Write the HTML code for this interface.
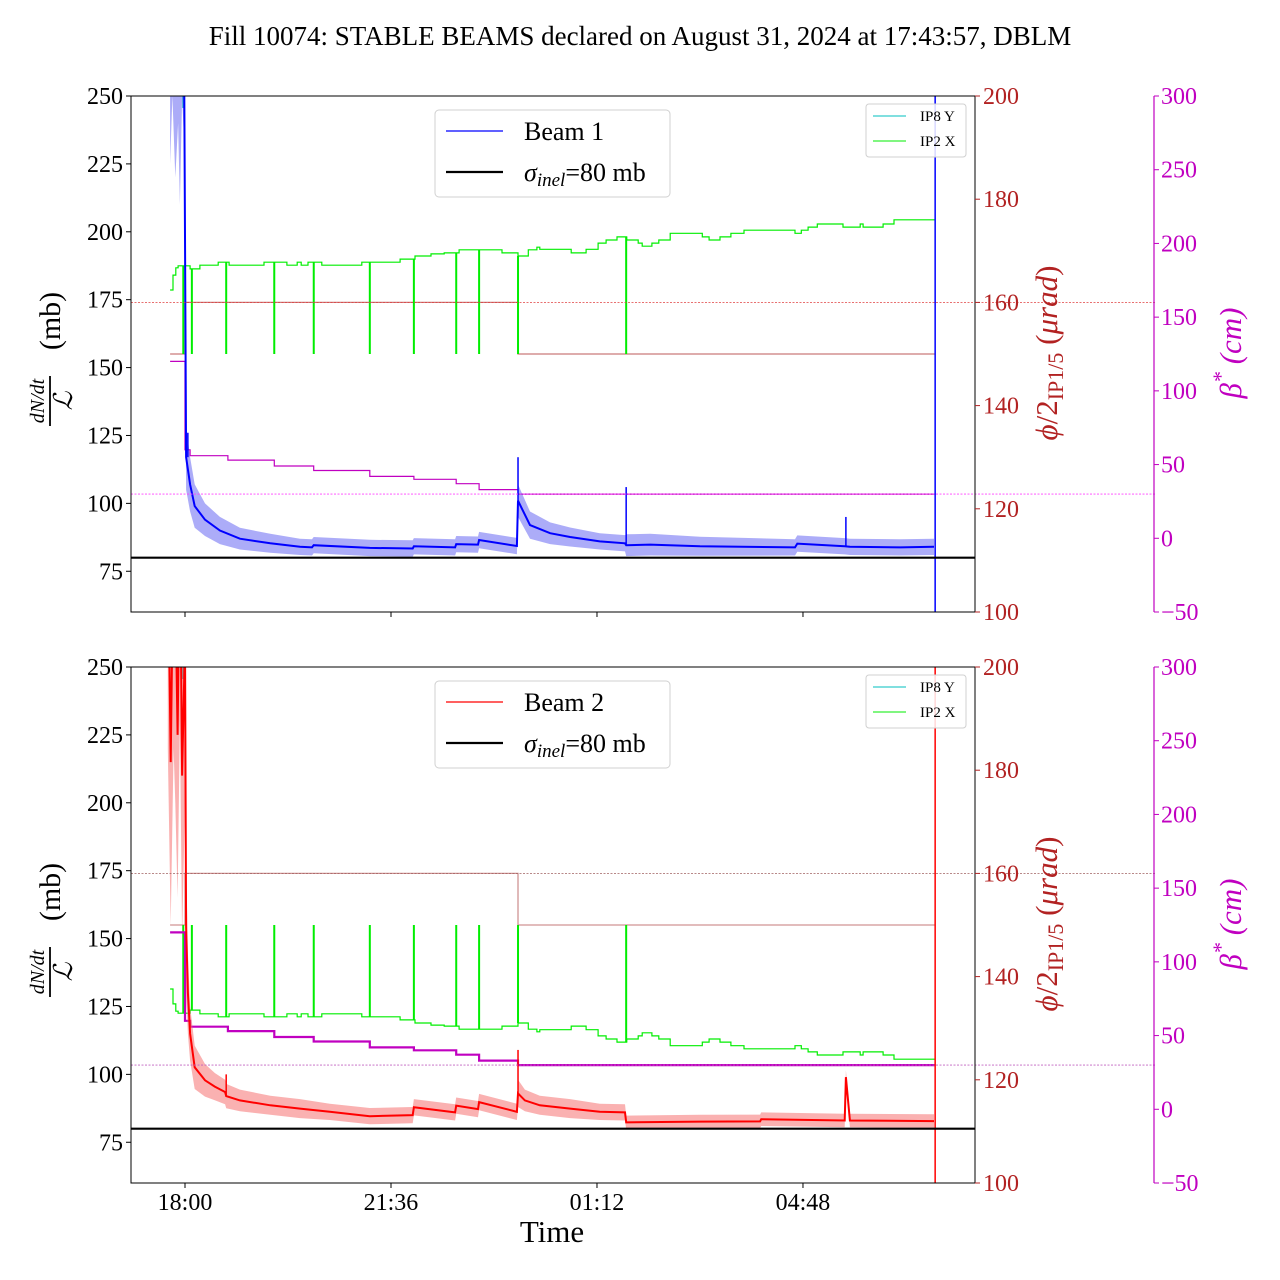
<!DOCTYPE html>
<html><head><meta charset="utf-8"><title>Fill 10074 DBLM</title>
<style>
html,body{margin:0;padding:0;background:#fff;}
svg{display:block;font-family:"Liberation Serif",serif;}
</style></head>
<body>
<svg id="chart" width="1280" height="1280" viewBox="0 0 1280 1280" xmlns="http://www.w3.org/2000/svg">
<text x="640" y="45" font-size="27" text-anchor="middle">Fill 10074: STABLE BEAMS declared on August 31, 2024 at 17:43:57, DBLM</text>
<g id="layer"></g>
<text x="552" y="1242" font-size="31" text-anchor="middle">Time</text>
</svg>
<script>
// ---- data (hours relative to 18:00) ----
const xTickLabels = ["18:00","21:36","01:12","04:48"];
const xTickHours = [0, 3.6, 7.2, 10.8];
const leftTicks = [75,100,125,150,175,200,225,250];
const redTicks = [100,120,140,160,180,200];
const magTicks = [-50,0,50,100,150,200,250,300];

const b1T = [-0.26,-0.22,-0.17,-0.12,-0.09,-0.05,-0.02,0.02,0.09,0.17,0.35,0.61,0.96,1.49,2.01,2.22,2.25,3.23,3.98,4.0,4.72,4.74,5.12,5.14,5.80,5.82,6.03,6.38,6.73,7.25,7.69,7.71,8.13,9.0,10.66,10.7,11.53,11.62,12.5,13.09];
const b1V = [270,300,260,290,255,300,280,117,107,99,94,90,87,85.3,84,83.8,84.6,83.6,83.4,84.2,83.8,85,84.8,86.5,84.3,101,92,89,87.6,86,85.3,84.6,84.8,84.2,83.8,85.2,84.2,84,83.8,84];
const b1W = [45,50,40,50,45,50,45,12,10,8,6,5,4,3.5,3,3,3,3,3,3,3,3,3,3,3,6,5,4,3.5,3,3,4,4,3.5,3,3,3,3,3,3];
const b1SpikeT = [0.05,5.82,7.71,11.55];
const b1SpikeV = [126,117,106,95];

const b2T = [-0.30,-0.25,-0.20,-0.17,-0.13,-0.09,-0.05,0.0,0.02,0.05,0.09,0.17,0.35,0.52,0.70,0.72,0.96,1.49,2.01,2.53,3.23,3.98,4.0,4.72,4.74,5.12,5.14,5.80,5.82,5.94,6.20,6.73,7.25,7.69,7.71,9.0,10.05,10.07,11.53,11.55,11.62,13.09];
const b2V = [300,215,300,280,225,300,210,260,154,130,115,102.6,97.8,95.5,93.5,92,90.4,88.6,87.4,86.2,84.6,85,87.9,86,88.5,87.2,89.8,86.2,93,90.4,88.6,87.4,86.2,86,82.3,82.6,82.7,83.5,83,99,83,82.8];
const b2W = [80,60,80,80,60,70,60,60,25,15,10,8,6,5,4.5,4.5,4,3.5,3.5,3,3,3,3,3,3,3,3,3,5,4,3.5,3.5,3,3,2.5,2.5,2.5,2.5,2.5,2.5,2.5,2.5];
const b2SpikeT = [0.72,5.82,11.55];
const b2SpikeV = [100,109,99];

const g1T = [-0.26,-0.21,-0.16,-0.12,0.09,0.26,0.58,0.77,1.38,1.78,1.96,2.03,2.15,2.39,3.09,3.76,4.02,4.30,4.53,4.79,5.54,5.82,6.0,6.15,6.2,6.75,7.01,7.22,7.36,7.55,7.72,7.92,7.99,8.16,8.28,8.48,9.04,9.16,9.35,9.54,9.77,10.66,10.77,10.89,11.05,11.50,11.80,11.85,12.20,12.39,13.11];
const g1V = [162.4,165.3,166.7,167.1,166.5,167.2,167.8,167.2,167.8,167.2,167.8,167.2,167.8,167.2,167.8,168.4,169.0,169.4,169.6,170.2,169.6,169.0,170.2,170.7,170.3,169.6,170.3,171.5,172.1,172.7,172.1,171.5,170.9,171.5,172.1,173.4,172.7,172.1,172.7,173.4,174.0,173.4,174.0,174.6,175.2,174.6,175.2,174.6,175.2,176.0,176.0];
const g2V = [137.6,134.7,133.3,132.9,133.5,132.8,132.2,132.8,132.2,132.8,132.2,132.8,132.2,132.8,132.2,131.6,131.0,130.6,130.4,129.8,130.4,131.0,129.8,129.3,129.7,130.4,129.7,128.5,127.9,127.3,127.9,128.5,129.1,128.5,127.9,126.6,127.3,127.9,127.3,126.6,126.0,126.6,126.0,125.4,124.8,125.4,124.8,125.4,124.8,124.0,124.0];
const dipT = [-0.03,0.12,0.72,1.56,2.25,3.23,4.0,4.74,5.14,5.82,7.71];
const dipV = 150;

const betaT = [-0.26,0.0,0.09,0.75,1.56,2.25,3.23,4.0,4.74,5.14,5.82,13.11];
const betaV = [120,60,56,53,49,46,42,40,37,33,30,30];

const xingT = [-0.26,0.0,5.82,13.11];
const xingV = [150,160,150,150];

// ---- drawing ----
const NS = "http://www.w3.org/2000/svg";
const layer = document.getElementById("layer");
const X0 = 131, X1 = 975;
const xH = h => 185 + h * 57.22;
function mk(tag, attrs, parent) {
  const e = document.createElementNS(NS, tag);
  for (const k in attrs) e.setAttribute(k, attrs[k]);
  (parent || layer).appendChild(e);
  return e;
}
function stepPath(ts, vs, yf) {
  let d = "M" + xH(ts[0]).toFixed(1) + "," + yf(vs[0]).toFixed(1);
  for (let i = 1; i < ts.length; i++) {
    d += "L" + xH(ts[i]).toFixed(1) + "," + yf(vs[i - 1]).toFixed(1);
    d += "L" + xH(ts[i]).toFixed(1) + "," + yf(vs[i]).toFixed(1);
  }
  return d;
}
function linePath(ts, vs, yf) {
  return ts.map((t, i) => (i ? "L" : "M") + xH(t).toFixed(1) + "," + yf(vs[i]).toFixed(1)).join("");
}

function panel(idx, Y0, bT, bV, bW, sT, sV, col, bandCol, gV, betaW, name, xingCol, refCol1, refCol2) {
  const Y1 = Y0 + 516;
  const yL = v => Y0 + (250 - v) * 516 / 190;
  const yR = v => Y0 + (200 - v) * 516 / 100;
  const yM = v => Y0 + (300 - v) * 516 / 350;
  const g = mk("g", {});
  
  
  const cid = "clip" + idx;
  const cp = mk("clipPath", { id: cid }, g);
  mk("rect", { x: X0, y: Y0, width: X1 - X0, height: 516 }, cp);
  const pg = mk("g", { "clip-path": "url(#" + cid + ")" }, g);

  const r1 = mk("line", { x1: X0, x2: X1 + 180, y1: yR(160), y2: yR(160), stroke: refCol1, "stroke-width": 0.8, "stroke-dasharray": "2,1.5" }, g);
  
  
  const r2 = mk("line", { x1: X0, x2: X1 + 180, y1: yM(30), y2: yM(30), stroke: refCol2, "stroke-width": 0.8, "stroke-dasharray": "2,1.5" }, g);
  
  

  const xl = mk("path", { d: stepPath(xingT, xingV, yR), fill: "none", stroke: xingCol, "stroke-width": 1.3 }, pg);
  
  

  const gl = mk("path", { d: stepPath(g1T, gV, yR), fill: "none", stroke: "#00ee00", "stroke-width": 1.2 }, pg);
  
  
  dipT.forEach(t => {
    let i = 0; while (i < g1T.length - 1 && g1T[i + 1] <= t) i++;
    const dl = mk("line", { x1: xH(t), x2: xH(t), y1: yR(gV[i]), y2: yR(dipV), stroke: "#00ee00", "stroke-width": 2 }, pg);
    
    
  });
  const cy = mk("line", { x1: xH(-0.03), x2: xH(-0.03), y1: Y0, y2: Y0 + 12, stroke: "#00bfbf", "stroke-width": 2 }, pg);
  
  

  const bl = mk("path", { d: stepPath(betaT, betaV, yM), fill: "none", stroke: "#c000c0", "stroke-width": betaW }, pg);
  
  

  let d = "";
  bT.forEach((t, i) => { d += (i ? "L" : "M") + xH(t).toFixed(1) + "," + yL(bV[i] + bW[i]).toFixed(1); });
  for (let i = bT.length - 1; i >= 0; i--) d += "L" + xH(bT[i]).toFixed(1) + "," + yL(bV[i] - bW[i]).toFixed(1);
  const band = mk("path", { d: d + "Z", fill: bandCol, stroke: "none" }, pg);
  
  
  const ml = mk("path", { d: linePath(bT, bV, yL), fill: "none", stroke: col, "stroke-width": 2 }, pg);
  
  
  sT.forEach((t, i) => {
    let j = 0; while (j < bT.length - 1 && bT[j + 1] <= t) j++;
    const s = mk("line", { x1: xH(t), x2: xH(t), y1: yL(bV[j]), y2: yL(sV[i]), stroke: col, "stroke-width": 1.5 }, pg);
    
    
  });
  const endT = bT[bT.length - 1] + 0.02;
  const ev = mk("line", { x1: xH(endT), x2: xH(endT), y1: Y0, y2: Y1, stroke: col, "stroke-width": 1.5 }, pg);
  
  

  const sg = mk("line", { x1: X0, x2: X1, y1: yL(80), y2: yL(80), stroke: "#000", "stroke-width": 2.2 }, pg);
  
  

  const fr = mk("rect", { x: X0, y: Y0, width: X1 - X0, height: 516, fill: "none", stroke: "#000", "stroke-width": 1 }, g);
  
  

  leftTicks.forEach(v => {
    mk("line", { x1: X0 - 5, x2: X0, y1: yL(v), y2: yL(v), stroke: "#000" }, g);
    const t = mk("text", { x: X0 - 8, y: yL(v) + 8, "font-size": 24, "text-anchor": "end" }, g);
    
    
    t.textContent = v;
  });
  redTicks.forEach(v => {
    mk("line", { x1: X1, x2: X1 + 5, y1: yR(v), y2: yR(v), stroke: "#b22222" }, g);
    const t = mk("text", { x: X1 + 8, y: yR(v) + 8, "font-size": 24, fill: "#b22222" }, g);
    
    
    t.textContent = v;
  });
  const ms = mk("line", { x1: 1154, x2: 1154, y1: Y0, y2: Y1, stroke: "#c000c0", "stroke-width": 1.2 }, g);
  
  
  magTicks.forEach(v => {
    mk("line", { x1: 1154, x2: 1159, y1: yM(v), y2: yM(v), stroke: "#c000c0" }, g);
    const t = mk("text", { x: 1161, y: yM(v) + 8, "font-size": 24, fill: "#c000c0" }, g);
    
    
    t.textContent = v < 0 ? "\u2212" + Math.abs(v) : v;
  });
  xTickHours.forEach((h, i) => {
    mk("line", { x1: xH(h), x2: xH(h), y1: Y1, y2: Y1 + 5, stroke: "#000" }, g);
    if (idx === 1) {
      const t = mk("text", { x: xH(h), y: Y1 + 27, "font-size": 24, "text-anchor": "middle" }, g);
      
      
      t.textContent = xTickLabels[i];
    }
  });

  const cyT = Y0 + 260;
  const lt = mk("g", { transform: "translate(52," + cyT + ") rotate(-90)" }, g);
  
  
  mk("text", { x: -45, y: -8, "font-size": 20, "font-style": "italic", "text-anchor": "middle" }, lt).textContent = "dN/dt";
  mk("line", { x1: -70, x2: -20, y1: -2, y2: -2, stroke: "#000", "stroke-width": 1.8 }, lt);
  mk("text", { x: -45, y: 20, "font-size": 26, "font-style": "italic", "text-anchor": "middle" }, lt).textContent = "\u2112";
  mk("text", { x: 35, y: 8, "font-size": 30, "text-anchor": "middle" }, lt).textContent = "(mb)";

  const rt = mk("text", { transform: "translate(1057," + (cyT - 3) + ") rotate(-90)", "font-size": 31, fill: "#b22222", "text-anchor": "middle" }, g);
  
  
  rt.innerHTML = '<tspan font-style="italic">\u03d5</tspan>/2<tspan font-size="22" dy="6">IP1/5</tspan><tspan dy="-6"> (</tspan><tspan font-style="italic">\u03bcrad</tspan>)';

  const mt = mk("text", { transform: "translate(1241," + (cyT - 3) + ") rotate(-90)", "font-size": 31, fill: "#c000c0", "text-anchor": "middle", "font-style": "italic" }, g);
  
  
  mt.innerHTML = '\u03b2<tspan font-size="22" dy="-13">*</tspan><tspan dy="13"> (cm)</tspan>';

  const lg = mk("g", {}, g);
  
  
  mk("rect", { x: 435, y: Y0 + 14, width: 235, height: 87, rx: 4, fill: "#fff", "fill-opacity": 0.85, stroke: "#d0d0d0" }, lg);
  mk("line", { x1: 446, x2: 503, y1: Y0 + 35, y2: Y0 + 35, stroke: col, "stroke-width": 1.3 }, lg);
  mk("text", { x: 524, y: Y0 + 44, "font-size": 26 }, lg).textContent = name === "beam-1" ? "Beam 1" : "Beam 2";
  mk("line", { x1: 446, x2: 503, y1: Y0 + 76, y2: Y0 + 76, stroke: "#000", "stroke-width": 2.2 }, lg);
  const st = mk("text", { x: 524, y: Y0 + 85, "font-size": 26 }, lg);
  st.innerHTML = '<tspan font-style="italic">\u03c3</tspan><tspan font-style="italic" font-size="19" dy="5">inel</tspan><tspan dy="-5">=80 mb</tspan>';

  const sl = mk("g", {}, g);
  
  
  mk("rect", { x: 866, y: Y0 + 8, width: 100, height: 53, rx: 3, fill: "#fff", "fill-opacity": 0.85, stroke: "#d0d0d0" }, sl);
  mk("line", { x1: 873, x2: 906, y1: Y0 + 20, y2: Y0 + 20, stroke: "#00bfbf" }, sl);
  mk("text", { x: 920, y: Y0 + 25, "font-size": 15 }, sl).textContent = "IP8 Y";
  mk("line", { x1: 873, x2: 906, y1: Y0 + 45, y2: Y0 + 45, stroke: "#00ee00" }, sl);
  mk("text", { x: 920, y: Y0 + 50, "font-size": 15 }, sl).textContent = "IP2 X";
}

panel(0, 96, b1T, b1V, b1W, b1SpikeT, b1SpikeV, "#0000ff", "rgba(70,70,240,0.45)", g1V, 1.2, "beam-1", "rgba(190,90,90,0.8)", "#e04040", "#ff40ff");
panel(1, 667, b2T, b2V, b2W, b2SpikeT, b2SpikeV, "#ff0000", "rgba(245,100,100,0.5)", g2V, 2.2, "beam-2", "rgba(170,60,60,0.55)", "#a06060", "#c060c0");
</script>
</body></html>
